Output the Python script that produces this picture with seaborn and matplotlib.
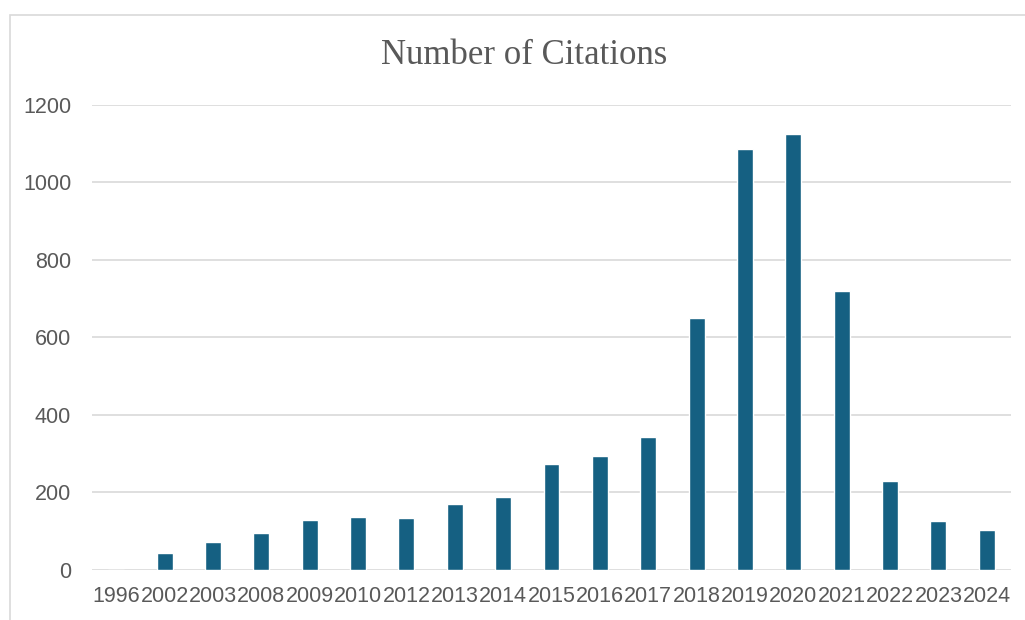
"""
Number of citations per year, bar chart.
"""
import pandas as pd
import seaborn as sns
import matplotlib.pyplot as plt
from matplotlib.patches import Rectangle

years = ['1996', '2002', '2003', '2008', '2009', '2010', '2012', '2013', '2014', '2015',
         '2016', '2017', '2018', '2019', '2020', '2021', '2022', '2023', '2024']
citations = [0, 43, 72, 95, 128, 136, 133, 169, 188, 273,
             293, 342, 651, 1087, 1126, 719, 229, 126, 103]
y_ticks = [0, 200, 400, 600, 800, 1000, 1200]

BAR_COLOR = '#156082'
GRID_COLOR = '#D9D9D9'
TEXT_COLOR = '#595959'

df = pd.DataFrame({'year': years, 'citations': citations})

sns.set_style('white')
plt.rcParams['font.family'] = ['Liberation Sans', 'DejaVu Sans']

fig = plt.figure(figsize=(10.25, 6.2), dpi=100)
ax = fig.add_axes([92 / 1025, 1 - 569.7 / 620, (1011 - 92) / 1025, (569.7 - 105) / 620])

sns.barplot(data=df, x='year', y='citations', color=BAR_COLOR, width=0.33,
            saturation=1, ax=ax, zorder=3)

ax.set_xlim(-0.5, len(years) - 0.5)
ax.set_ylim(0, 1200)
ax.set_yticks(y_ticks)
ax.set_xlabel('')
ax.set_ylabel('')
ax.yaxis.grid(True, color=GRID_COLOR, linewidth=1.2, zorder=0)
ax.set_axisbelow(True)
for s in ax.spines.values():
    s.set_visible(False)
ax.tick_params(axis='x', length=0, pad=12, labelsize=15.5, labelcolor=TEXT_COLOR)
ax.tick_params(axis='y', length=0, pad=15, labelsize=15.5, labelcolor=TEXT_COLOR)

fig.text(524 / 1025, 1 - 55 / 620, 'Number of Citations', ha='center', va='center',
         fontsize=25, color=TEXT_COLOR, family=['Liberation Serif', 'DejaVu Serif'])

# chart frame (cropped on the right and bottom)
fig.patches.append(Rectangle((10 / 1025, -0.2), 1.2, 1.2 - 15 / 620, transform=fig.transFigure,
                             fill=False, edgecolor=GRID_COLOR, linewidth=1.2, zorder=0))

plt.savefig('out.png', dpi=100)
